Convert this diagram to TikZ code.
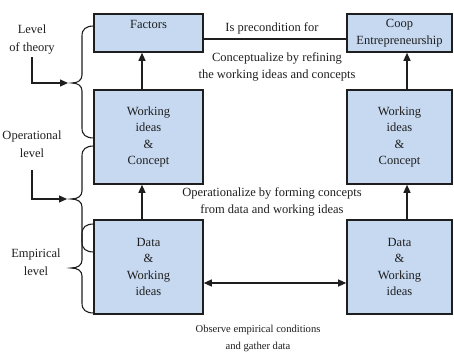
\documentclass[tikz,border=0pt]{standalone}
\usepackage{fontspec}
\setmainfont{Liberation Serif}
\usepackage{xcolor}
\usepackage{tikz}
\usetikzlibrary{arrows.meta}

\definecolor{boxblue}{RGB}{198,217,241}
\definecolor{inkgray}{RGB}{30,30,30}

\begin{document}
\begin{tikzpicture}[x=1pt, y=-1pt,
    box/.style={draw=inkgray, rectangle, line width=1.6pt, fill=boxblue, align=center, inner sep=0pt, text=inkgray, font=\fontsize{12.5}{16.5}\selectfont},
    txt/.style={align=center, inner sep=1pt, text=inkgray, font=\fontsize{12.5}{17.5}\selectfont},
    arrow/.style={-{Triangle[length=8pt,width=7pt]}, line width=1.2pt, draw=inkgray},
    brc/.style={line width=1.1pt, draw=inkgray}
  ]
    \useasboundingbox (0,0) rectangle (454,352);

    % Boxes
    \node[box, minimum width=109pt, minimum height=38pt, text depth=17pt] (factors) at (148.5,33) {Factors};
    \node[box, minimum width=105pt, minimum height=38pt] (coop) at (399.5,33) {Coop\\Entrepreneurship};
    \node[box, minimum width=109pt, minimum height=94pt] (workL) at (148.5,137) {Working\\ideas\\\&\\Concept};
    \node[box, minimum width=105pt, minimum height=94pt] (workR) at (399.5,137) {Working\\ideas\\\&\\Concept};
    \node[box, minimum width=109pt, minimum height=94pt] (dataL) at (148.5,267) {Data\\\&\\Working\\ideas};
    \node[box, minimum width=105pt, minimum height=94pt] (dataR) at (399.5,267) {Data\\\&\\Working\\ideas};

    % Labels
    \node[txt] (precond) at (272,28) {Is precondition for};
    \node[txt] (concept) at (277,67) {Conceptualize by refining\\the working ideas and concepts};
    \node[txt] (operat) at (272,202) {Operationalize by forming concepts\\from data and working ideas};
    \node[txt, font=\fontsize{10.6}{17}\selectfont] (observe) at (258,338) {Observe empirical conditions\\and gather data};
    \node[txt] (theory) at (32,39.5) {Level\\of theory};
    \node[txt] (oplevel) at (32,144) {Operational\\level};
    \node[txt] (emplevel) at (36,262) {Empirical\\level};

    % Arrows
    \draw[line width=1.2pt, draw=inkgray] ([yshift=-6pt]factors.east) -- ([yshift=-6pt]coop.west);
    \draw[arrow] ([xshift=-6.5pt]workL.north) -- ([xshift=-6.5pt]factors.south);
    \draw[arrow] ([xshift=-6.5pt]dataL.north) -- ([xshift=-6.5pt]workL.south);
    \draw[arrow] ([xshift=7.5pt]workR.north) -- ([xshift=7.5pt]coop.south);
    \draw[arrow] ([xshift=7.5pt]dataR.north) -- ([xshift=7.5pt]workR.south);
    \draw[arrow, {Triangle[length=8pt,width=7pt]}-{Triangle[length=8pt,width=7pt]}] ([yshift=-16pt]dataL.east) -- ([yshift=-16pt]dataR.west);

    \coordinate (tip1) at (68,83);
    \coordinate (tip2) at (67,199);
    \draw[arrow] ([yshift=-2pt]theory.south) |- (tip1);
    \draw[arrow] ([yshift=-12pt]oplevel.south) |- (tip2);

    % Braces
    \draw[brc] (94,26) .. controls (86,26) and (82,29) .. (82,36) -- (82,75) .. controls (82,80) and (78,83) .. (72,83) .. controls (78,83) and (82,86) .. (82,91) -- (82,128) .. controls (82,135) and (86,138) .. (94,138);
    \draw[brc] (94,146) .. controls (86,146) and (82,149) .. (82,156) -- (82,191) .. controls (82,196) and (78,199) .. (71,199) .. controls (78,199) and (82,202) .. (82,207) -- (82,242) .. controls (82,249) and (86,252) .. (94,252);
    \draw[brc] (94,224) .. controls (86,224) and (82,227) .. (82,234) -- (82,260) .. controls (82,265) and (78,268) .. (71,268) .. controls (78,268) and (82,271) .. (82,276) -- (82,303) .. controls (82,310) and (86,313) .. (94,313);
  \end{tikzpicture}
\end{document}
